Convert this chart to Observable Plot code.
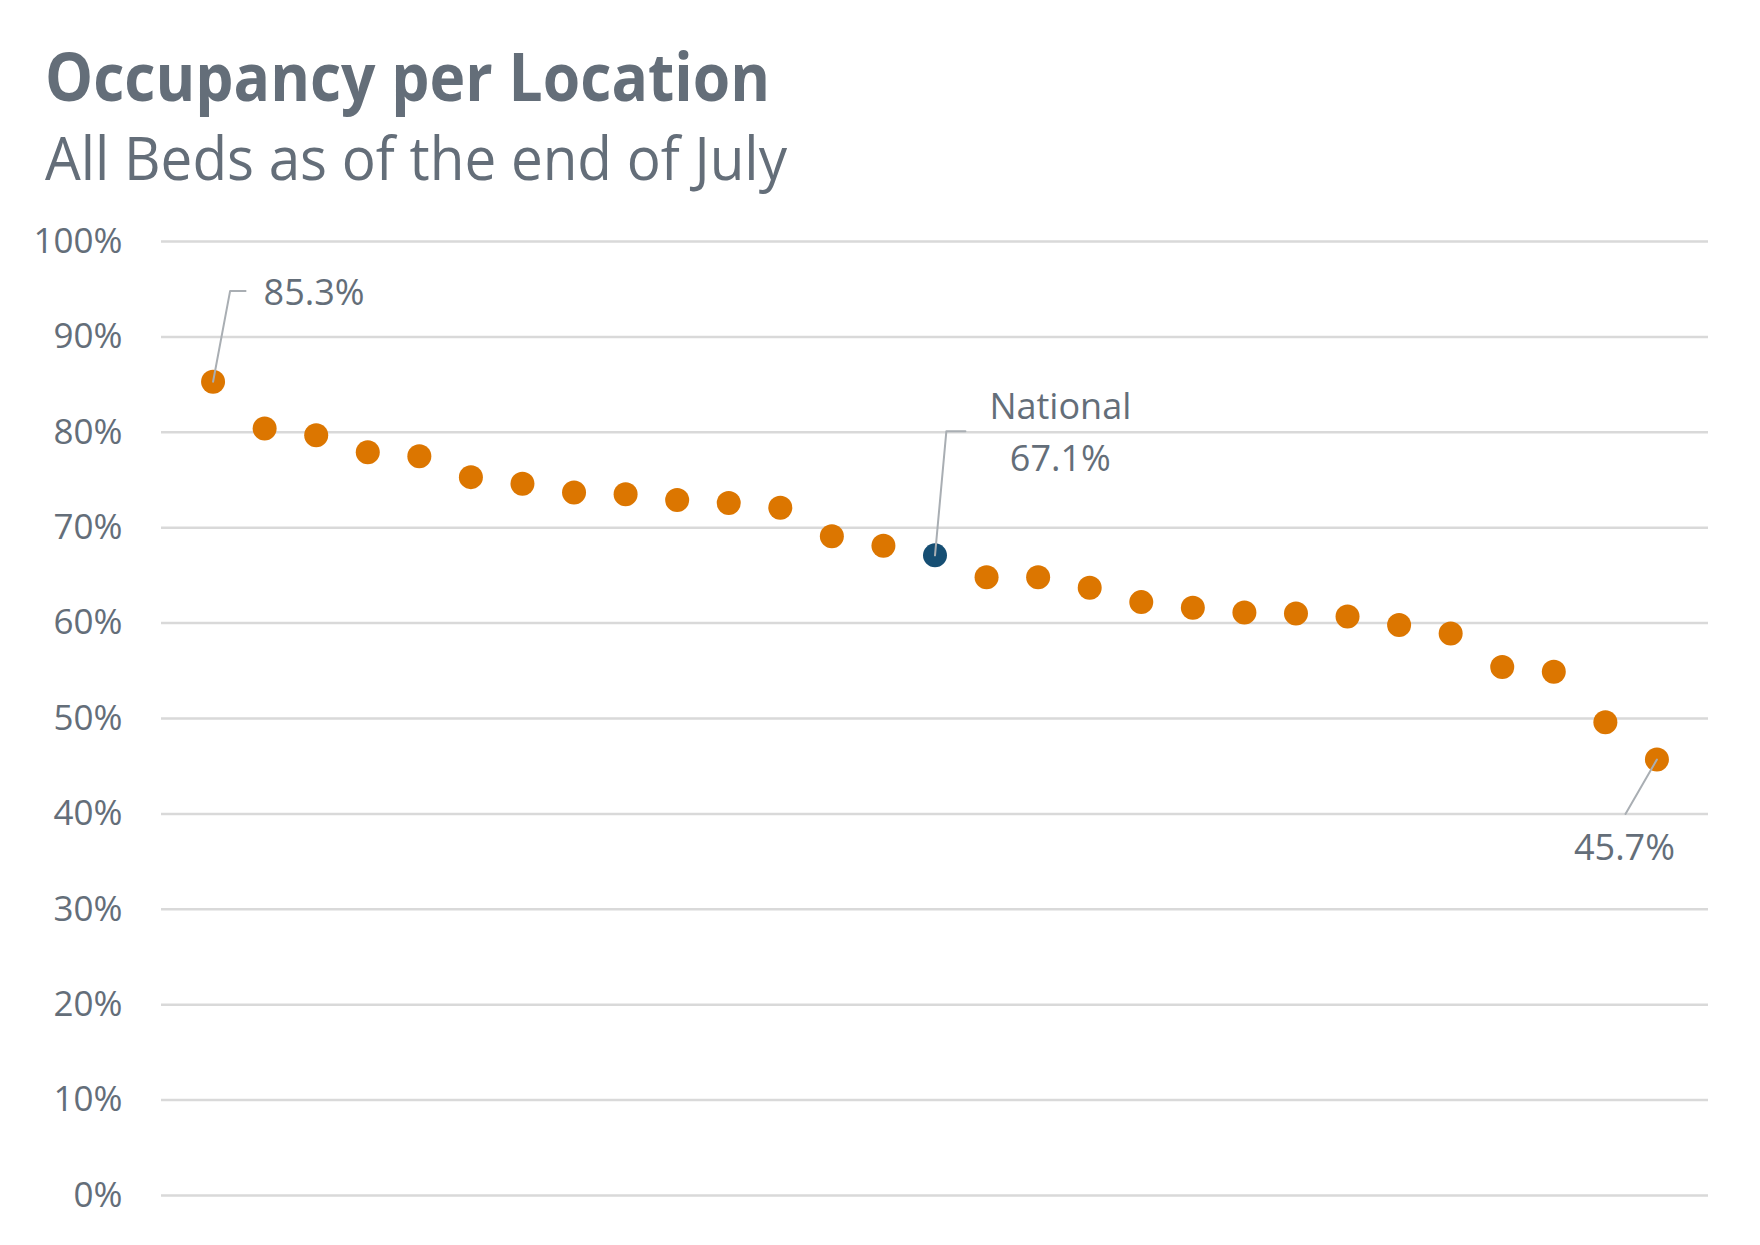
<!DOCTYPE html>
<html>
<head>
<meta charset="utf-8">
<script src="https://cdn.jsdelivr.net/npm/d3@7"></script>
<script src="https://cdn.jsdelivr.net/npm/@observablehq/plot@0.6"></script>
<style>
  html, body { margin: 0; padding: 0; background: #ffffff; }
  #wrap { width: 1760px; height: 1245px; position: relative; overflow: hidden; }
  svg { display: block; }
</style>
</head>
<body>
<div id="wrap">
  <svg id="header" width="1760" height="200" xmlns="http://www.w3.org/2000/svg">
    <text x="45" y="101" font-family="Open Sans, sans-serif" font-weight="700" font-size="66" fill="#646e79" textLength="725" lengthAdjust="spacingAndGlyphs">Occupancy per Location</text>
    <text x="45" y="180" font-family="Open Sans, sans-serif" font-weight="400" font-size="60" fill="#646e79" textLength="742" lengthAdjust="spacingAndGlyphs">All Beds as of the end of July</text>
  </svg>
  <div id="chart"></div>
</div>
<script>
// ---- data ----
const occupancy = [85.3, 80.4, 79.7, 77.9, 77.5, 75.3, 74.6, 73.7, 73.5, 72.9, 72.6, 72.1, 69.1, 68.1, 67.1,
                   64.8, 64.8, 63.7, 62.2, 61.6, 61.1, 61.0, 60.7, 59.8, 58.9, 55.4, 54.9, 49.6, 45.7];
const rank = occupancy.map((d, i) => i + 1);
const nationalRank = 15;
const yTicks = [0, 10, 20, 30, 40, 50, 60, 70, 80, 90, 100];

// annotation text and leader lines (in data units: rank, percent)
const labelTexts = ["85.3%", "National", "67.1%", "45.7%"];
const labelX = [1.98, 17.43, 17.43, 28.37];
const labelY = [94.6, 82.6, 77.1, 36.4];
const labelAnchor = ["start", "middle", "middle", "middle"];
const leaderIds = ["max", "max", "max", "nat", "nat", "nat", "min", "min"];
const leaderX = [1, 1.33, 1.63, 15, 15.22, 15.59, 29, 28.39];
const leaderY = [85.3, 94.8, 94.8, 67.1, 80.1, 80.1, 45.7, 40.0];

const points = rank.map((r, i) => ({rank: r, value: occupancy[i], national: r === nationalRank}));
const labels = labelTexts.map((t, i) => ({text: t, x: labelX[i], y: labelY[i], anchor: labelAnchor[i]}));
const leaders = leaderIds.map((id, i) => ({id, x: leaderX[i], y: leaderY[i]}));

const textColor = "#646e79";
const orange = "#dc7600";
const navy = "#164e73";

const chart = Plot.plot({
  width: 1760,
  height: 1045,
  marginTop: 41,
  marginBottom: 50,
  marginLeft: 161,
  marginRight: 52,
  style: {fontFamily: "Open Sans, sans-serif", color: textColor, background: "#ffffff"},
  x: {domain: [0, 30], axis: null},
  y: {domain: [0, 100], axis: null},
  marks: [
    Plot.ruleY(yTicks, {stroke: "#d9d9d9", strokeWidth: 2.5}),
    Plot.text(yTicks, {x: 0, y: d => d, text: d => d + "%", textAnchor: "end", dx: -39, fontSize: 35, fill: textColor}),
    Plot.dot(points.filter(d => !d.national), {x: "rank", y: "value", r: 12, fill: orange, stroke: "none"}),
    Plot.dot(points.filter(d => d.national), {x: "rank", y: "value", r: 12, fill: navy, stroke: "none"}),
    Plot.line(leaders, {x: "x", y: "y", z: "id", stroke: "#a9aeb3", strokeWidth: 2}),
    Plot.text(labels.filter(d => d.anchor === "start"), {x: "x", y: "y", text: "text", textAnchor: "start", fontSize: 36, fill: textColor}),
    Plot.text(labels.filter(d => d.anchor === "middle"), {x: "x", y: "y", text: "text", textAnchor: "middle", fontSize: 36, fill: textColor})
  ]
});
document.getElementById("chart").appendChild(chart);
</script>
</body>
</html>
